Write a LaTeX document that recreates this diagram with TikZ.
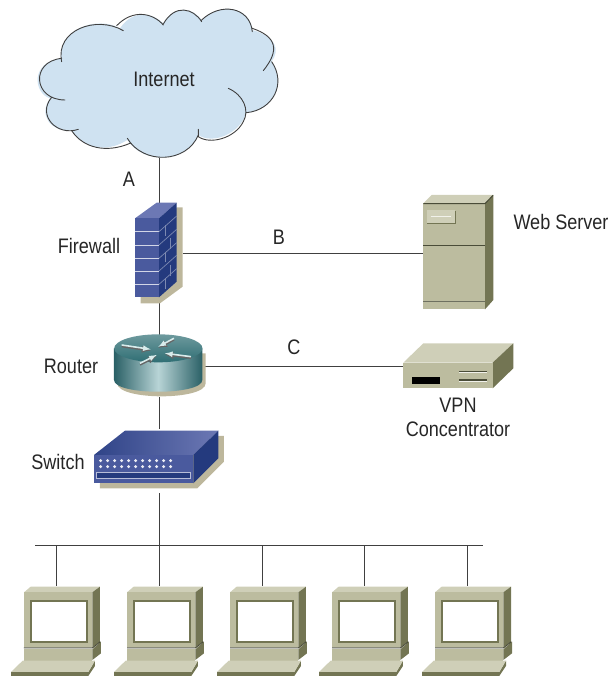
\documentclass[tikz,border=0pt]{standalone}
\usepackage{fontspec}
\setmainfont[FakeStretch=0.86]{Liberation Sans}
\usepackage{tikz}
\usetikzlibrary{arrows}
\definecolor{cloudblue}{HTML}{CFE2F1}
\definecolor{tanfront}{HTML}{BCBC9F}
\definecolor{tantop}{HTML}{CFCFB8}
\definecolor{tanside}{HTML}{737553}
\definecolor{tandark}{HTML}{4A4C38}
\definecolor{tanshadow}{HTML}{BDB79C}
\definecolor{brickfront}{HTML}{4A5A9E}
\definecolor{bricktop}{HTML}{6C78B4}
\definecolor{brickside}{HTML}{243A7E}
\definecolor{routerdark}{HTML}{2A6066}
\definecolor{routerlight}{HTML}{B8D4D6}
\definecolor{routertop}{HTML}{6E9A9E}
\definecolor{routertopdark}{HTML}{2F6E74}

\tikzset{
  zoomed/.style = {x = 0.3333pt, y = -0.3333pt},
  pics/computer/.style = {code = {
    \begin{scope}[shift = {(-46,-101)}, zoomed]
    % Monitor
    \fill [tantop] (42,187) -- (62,170) -- (270,170) -- (247,187) -- cycle;
    \fill [tanside] (247,187) -- (270,170) -- (270,335) -- (247,352) -- cycle;
    \fill [tanfront] (42,187) rectangle (247,352);
    \fill [tanside] (60,210) rectangle (233,338);
    \fill [white] (67,217) rectangle (227,332);
    % Base
    \fill [tanside] (247,358) -- (273,335) -- (273,370) -- (247,390) -- cycle;
    \fill [tanfront] (42,356) rectangle (247,392);
    \draw [tandark, line width = 1pt] (42,354) -- (247,354) -- (271,335);
    % Keyboard
    \fill [tanside] (3,426) -- (235,426) -- (255,392) -- (255,408) -- (235,438) -- (3,438) -- cycle;
    \fill [tantop] (38,392) -- (255,392) -- (235,426) -- (3,426) -- cycle;
    \end{scope}
  }}
}

\begin{document}
\begin{tikzpicture}[x = 1pt, y = -1pt]
% Node styles ---
\tikzstyle{iconbox} = [rectangle, inner sep = 0pt, outer sep = 0pt]
\tikzstyle{label} = [inner sep = 0pt, font = \fontsize{21}{24}\selectfont, text = black!85, align = center]
% Edge styles
\tikzstyle{con} = [line width = 0.9pt, draw = black!75]
\useasboundingbox (0,0) rectangle (612,676);
% Nodes
\node at (159,83) [iconbox, minimum width = 242pt, minimum height = 150pt] (internet) {};
\node at (159,253) [iconbox, minimum width = 48pt, minimum height = 100pt] (firewall) {};
\node at (159,366) [iconbox, minimum width = 90pt, minimum height = 62pt] (router) {};
\node at (159,461) [iconbox, minimum width = 100pt, minimum height = 64pt] (switch) {};
\node at (467,253) [iconbox, minimum width = 70pt, minimum height = 116pt] (webserver) {};
\node at (458,366) [iconbox, minimum width = 110pt, minimum height = 46pt] (vpn) {};
\coordinate (busleft) at (35,545);
\coordinate (busright) at (483,545);
\coordinate (busmid) at (159,545);
\foreach \i/\x in {1/56, 2/159, 3/262, 4/364, 5/467} {
  \node at (\x,631) [iconbox, minimum width = 90pt, minimum height = 90pt] (pc\i) {};
  \coordinate (bus\i) at (\x,545);
}
% Paths
\path (internet) edge [con] (firewall);
\path (firewall) edge [con] (router);
\path (router) edge [con] (switch);
\path (switch) edge [con] (busmid);
\path (firewall) edge [con] (webserver);
\path (router) edge [con] (vpn);
\path (busleft) edge [con] (busright);
\foreach \i in {1,...,5} {
  \path (bus\i) edge [con] (pc\i);
}
% Cloud
\begin{scope}[shift = {(20,0)}, zoomed]
\fill [cloudblue] (125,185) .. controls (105,90) and (230,45) .. (300,85) .. controls (340,25) and (400,40) .. (430,70)
  .. controls (465,10) and (520,25) .. (545,60) .. controls (600,5) and (690,20) .. (697,90)
  .. controls (770,110) and (780,150) .. (755,185) .. controls (800,250) and (760,330) .. (680,338)
  .. controls (660,400) and (580,435) .. (535,405) .. controls (500,490) and (370,495) .. (322,420)
  .. controls (260,460) and (190,445) .. (155,392) .. controls (90,395) and (55,345) .. (90,295)
  .. controls (40,280) and (30,185) .. (125,175) -- cycle;
\draw [black!75, line width = 0.9pt, line cap = round]
  (125,185) .. controls (105,90) and (230,45) .. (310,92)
  (290,77) .. controls (340,25) and (400,40) .. (430,75)
  (430,72) .. controls (465,10) and (520,25) .. (545,65)
  (543,62) .. controls (600,5) and (690,20) .. (697,95)
  (697,85) .. controls (770,110) and (780,150) .. (730,212)
  (755,185) .. controls (800,250) and (760,330) .. (680,338)
  (625,265) .. controls (670,285) and (690,330) .. (670,365) .. controls (645,415) and (570,435) .. (535,410) -- (535,388)
  (535,405) .. controls (500,490) and (370,495) .. (322,415)
  (330,430) .. controls (260,460) and (190,445) .. (155,392)
  (175,388) .. controls (110,410) and (50,345) .. (95,292)
  (135,300) .. controls (40,300) and (30,185) .. (125,175);
\end{scope}
% Firewall
\begin{scope}[shift = {(80,190)}, zoomed]
\fill [tanshadow] (290,52) -- (308,52) -- (308,290) -- (240,340) -- (182,340) -- (182,320) -- cycle;
\fill [bricktop] (165,85) -- (230,38) -- (290,38) -- (237,85) -- cycle;
\fill [brickside] (237,85) -- (290,38) -- (290,275) -- (237,322) -- cycle;
\fill [brickfront] (165,85) rectangle (237,322);
\foreach \y in {125,165,205,243,283} {
  \draw [white!75!brickfront, line width = 0.9pt] (165,\y) -- (237,\y);
  \draw [white!40!brickside, line width = 0.7pt] (237,\y) -- (290,\y-47);
}
\foreach \y/\x in {105/255, 145/270, 185/255, 225/270, 265/255} {
  \draw [white!40!brickside, line width = 0.7pt] (\x,\y) -- (\x,\y+32);
}
\end{scope}
% Router
\begin{scope}[shift = {(80,190)}, zoomed]
\fill [tanshadow] (112,490) -- (112,580) .. controls (112,632) and (377,632) .. (377,580) -- (377,490) -- cycle;
\shade [left color = routerdark, right color = routerdark, middle color = routerlight]
  (102,475) -- (102,570) .. controls (102,617) and (367,617) .. (367,570) -- (367,475) -- cycle;
\shade [top color = routertop, bottom color = routertopdark] (235,475) ellipse [x radius = 132.5, y radius = 42];
\foreach \a/\b/\c/\d in {125/465/212/478, 282/445/235/470, 333/500/255/490, 180/520/230/495} {
  \draw [-latex, black!60, line width = 2pt] (\a,\b+4) -- (\c,\d+4);
  \draw [-latex, white!85!teal, line width = 1.6pt] (\a,\b) -- (\c,\d);
}
\end{scope}
% Switch
\begin{scope}[shift = {(80,190)}, zoomed]
\fill [tanshadow] (415,738) -- (432,738) -- (432,815) -- (352,895) -- (60,895) -- (60,880) -- cycle;
\shade [left color = brickside!70!brickfront, right color = bricktop] (42,795) -- (135,722) -- (415,722) -- (340,795) -- cycle;
\fill [brickside] (340,795) -- (415,722) -- (415,805) -- (340,880) -- cycle;
\fill [brickfront] (42,795) rectangle (340,880);
\foreach \x in {0,...,10} {
  \fill [white!90!brickfront] (62+21*\x,812) circle [radius = 5];
  \fill [white!90!brickfront] (62+21*\x,830) circle [radius = 5];
}
\draw [white!60!brickfront, fill = brickside, line width = 0.6pt] (50,846) rectangle (330,865);
\end{scope}
% Web server
\begin{scope}[shift = {(390,180)}, zoomed]
\fill [tantop] (100,70) -- (125,45) -- (310,45) -- (285,70) -- cycle;
\fill [tanside] (285,70) -- (310,45) -- (310,360) -- (285,388) -- cycle;
\fill [tanfront] (100,70) rectangle (285,388);
\draw [tandark, line width = 1pt] (100,71) -- (285,71) -- (309,46);
\draw [tandark, line width = 1.3pt] (100,197) -- (285,197);
\draw [tandark!80, line width = 1.3pt] (100,365) -- (285,365);
\fill [tanside] (112,92) rectangle (198,133);
\fill [tantop] (110,90) rectangle (194,129);
\draw [white!70!tantop, line width = 0.9pt] (122,110) -- (182,110);
\end{scope}
% VPN concentrator
\begin{scope}[shift = {(390,180)}, zoomed]
\fill [tantop] (40,548) -- (100,490) -- (370,490) -- (308,548) -- cycle;
\fill [tanside] (308,548) -- (370,490) -- (370,565) -- (308,625) -- cycle;
\fill [tanfront] (40,548) rectangle (308,625);
\fill [black] (65,592) rectangle (150,611);
\foreach \y in {575,600} {
  \draw [white!70!tantop, line width = 1.5pt] (208,\y+3) -- (290,\y+3);
  \draw [tandark, line width = 1.1pt] (208,\y) -- (290,\y);
}
\end{scope}
% Computers
\foreach \i/\x in {1/56, 2/159, 3/262, 4/364, 5/467} {
  \pic at (\x,631) {computer};
}
% Labels
\node at (164,79) [label] (internetlabel) {Internet};
\node at (129,179) [label] (labela) {A};
\node at (89,246) [label] (firewalllabel) {Firewall};
\node at (279,237) [label] (labelb) {B};
\node at (561,222) [label] (webserverlabel) {Web Server};
\node at (71,366) [label] (routerlabel) {Router};
\node at (294,347) [label] (labelc) {C};
\node at (58,462) [label] (switchlabel) {Switch};
\node at (458,417) [label] (vpnlabel) {VPN\\Concentrator};
\end{tikzpicture}
\end{document}
